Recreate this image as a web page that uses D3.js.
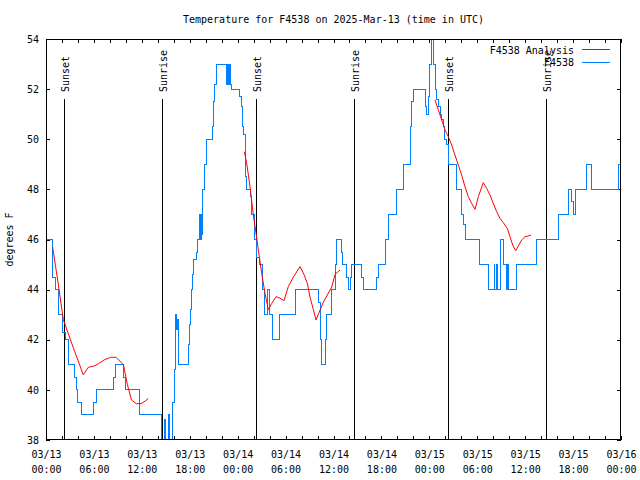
<!DOCTYPE html>
<html>
<head>
<meta charset="utf-8">
<script src="https://cdn.jsdelivr.net/npm/d3@7"></script>
<style>
  html,body{margin:0;padding:0;background:#fff;}
  svg{display:block;}
  text{font-family:"DejaVu Sans Mono","Liberation Mono",monospace;font-size:10px;fill:#000;}
</style>
</head>
<body>
<svg id="chart" width="640" height="480"></svg>
<script>
// ---- data (hours since 2025-03-13 00:00 UTC) ----
const obsHours = [0.16,0.83,1.25,1.54,2.09,2.38,2.8,3.55,3.76,4.0,4.47,6.01,6.3,8.51,8.75,9.68,9.95,11.77,14.5,14.82,15.0,15.32,15.45,15.86,16.07,16.25,16.4,16.48,16.57,17.82,17.95,18.12,18.24,18.37,18.53,18.87,19.0,19.2,19.35,19.45,19.55,19.62,19.82,20.05,20.83,20.95,21.16,21.29,22.62,22.71,22.79,22.87,22.95,23.04,23.12,23.2,24.29,24.5,24.6,24.75,24.97,25.13,25.55,25.75,26.17,26.38,26.71,27.13,27.34,27.55,27.75,27.97,28.38,29.3,31.18,34.1,34.31,34.5,34.94,35.14,35.43,35.77,36.19,36.4,36.94,37.15,37.65,37.86,38.15,38.28,39.53,39.74,41.41,41.62,42.46,42.57,42.87,43.91,44.75,45.58,45.79,46.0,47.46,47.6,47.88,48.08,48.29,48.58,48.71,48.92,49.13,49.34,49.55,49.75,49.96,50.17,50.38,51.42,52.05,52.26,52.55,54.26,55.39,56.1,56.22,56.4,56.52,56.85,57.27,57.69,57.8,57.9,58.94,61.44,64.16,65.41,65.83,66.04,66.25,67.71,68.25,71.67,72.0];
const obsTemps = [46,44.5,44,43,42.3,42,41,40.5,40,39.5,39,39.5,40,40.5,41,40.5,40,39,37.5,38.8,37.5,39,37.5,39.5,40.8,43,42.4,42.8,41,41.8,42.6,43.2,44,44.6,45.2,45.5,46,47,46,47,46.2,48,49,50,50.5,51.5,52.2,53,52.2,53,52.2,53,52.2,53,52.2,52,51.7,51.3,50.5,50.2,48.5,48,47.7,47,46,45.3,45,44,43,43,44,43,42,43,44,43.5,42,41,42,43,43,44,45,46,45.5,45,44.5,44,44.5,45,44.5,44,44.5,45,45,46,47,48,49,50.5,51.5,52,51.3,51,51.7,53,54.2,53,52,51.6,51.3,51,50.8,50.5,50,49.8,49,48,47,46.6,46,45,44,45,44,45,44,46,45,44,45,44,45,46,47,48,47.5,47,48,49,48,49,49];

const anaHours = [
  [0.83,1.5,2.17,3.4,4.67,5.3,6.0,6.6,7.3,8.1,8.77,9.7,10.2,10.7,11.3,11.9,12.4,12.8],
  [24.84,25.13,25.55,25.96,26.30,26.59,27.01,27.42,27.84,28.26,28.80,29.30,29.80,30.34,30.97,31.81,32.31,32.73,33.06,33.48,33.81,34.73,35.77,36.19,36.81],
  [48.71,49.13,49.55,49.96,50.38,50.8,51.21,51.63,52.05,52.47,52.88,53.3,53.72,54.14,54.76,55.18,55.6,56.01,56.43,56.85,57.27,57.77,58.1,58.44,58.81,59.14,59.56,59.98,60.4,60.73]
];
const anaTemps = [
  [45.7,44.3,42.8,41.7,40.6,40.9,40.95,41.05,41.2,41.3,41.3,41.0,40.2,39.6,39.45,39.45,39.55,39.65],
  [49.5,49.04,48.1,46.98,46.25,45.58,44.65,43.85,43.2,43.45,43.72,43.66,43.56,44.12,44.5,44.92,44.6,44.25,43.7,43.2,42.79,43.5,44.1,44.6,44.78],
  [51.57,51.17,50.77,50.37,50.1,49.77,49.37,48.97,48.57,48.1,47.71,47.44,47.2,47.71,48.27,48.04,47.77,47.44,47.11,46.84,46.67,46.44,46.11,45.78,45.55,45.74,45.98,46.11,46.14,46.18]
];

const sunsetHours = [2.254, 26.3, 50.34];
const sunriseHours = [14.53, 38.57, 62.61];

const yTicks = [38,40,42,44,46,48,50,52,54];
const seriesNames = ["F4538 Analysis", "F4538"];
const seriesColors = ["#ff0000", "#0080ff"];
const titleText = "Temperature for F4538 on 2025-Mar-13 (time in UTC)";
const yLabel = "degrees F";

// ---- layout ----
const L = 46, R = 621, T = 39, B = 440;
const t0 = Date.UTC(2025, 2, 13, 0, 0);
const hr = h => new Date(t0 + h * 3600000);

const svg = d3.select("#chart");
const x = d3.scaleUtc().domain([hr(0), hr(72)]).range([L, R]);
const y = d3.scaleLinear().domain([38, 54]).range([B, T]);

svg.append("defs").append("clipPath").attr("id", "clip")
  .append("rect").attr("x", L).attr("y", T).attr("width", R - L).attr("height", B - T);

// title
svg.append("text").attr("x", (L + R) / 2).attr("y", 23).attr("text-anchor", "middle").text(titleText);

// y label
svg.append("text").attr("transform", "translate(13," + ((T + B) / 2) + ") rotate(-90)")
  .attr("text-anchor", "middle").text(yLabel);

// y axis left
const yAxisL = svg.append("g").attr("transform", "translate(" + L + ",0)")
  .call(d3.axisLeft(y).tickValues(yTicks).tickSize(-4).tickPadding(6).tickFormat(d3.format("d")));
yAxisL.select(".domain").remove();
yAxisL.selectAll(".tick line").attr("stroke", "#000").attr("shape-rendering", "crispEdges");
yAxisL.selectAll("text").attr("font-family", null).attr("font-size", null).attr("x", -7);

// y axis right (mirror ticks)
const yAxisR = svg.append("g").attr("transform", "translate(" + R + ",0)")
  .call(d3.axisRight(y).tickValues(yTicks).tickSize(-4).tickFormat(""));
yAxisR.select(".domain").remove();
yAxisR.selectAll(".tick line").attr("stroke", "#000").attr("shape-rendering", "crispEdges");

// x ticks every 2 hours
const xTickVals = d3.range(0, 73, 2).map(hr);
const xAxisB = svg.append("g").attr("transform", "translate(0," + B + ")")
  .call(d3.axisBottom(x).tickValues(xTickVals).tickSize(-4).tickFormat(""));
xAxisB.select(".domain").remove();
xAxisB.selectAll(".tick line").attr("stroke", "#000").attr("shape-rendering", "crispEdges");
const xAxisT = svg.append("g").attr("transform", "translate(0," + T + ")")
  .call(d3.axisTop(x).tickValues(xTickVals).tickSize(-4).tickFormat(""));
xAxisT.select(".domain").remove();
xAxisT.selectAll(".tick line").attr("stroke", "#000").attr("shape-rendering", "crispEdges");

// x labels every 6 hours, two lines
const fmtD = d3.utcFormat("%m/%d"), fmtT = d3.utcFormat("%H:%M");
const xLab = svg.append("g").attr("transform", "translate(0," + B + ")")
  .call(d3.axisBottom(x).tickValues(d3.range(0, 73, 6).map(hr)).tickSize(0).tickFormat(""));
xLab.select(".domain").remove();
xLab.selectAll(".tick").each(function(d) {
  const t = d3.select(this).append("text").attr("text-anchor", "middle");
  t.append("tspan").attr("x", 0).attr("y", 18).text(fmtD(d));
  t.append("tspan").attr("x", 0).attr("y", 33).text(fmtT(d));
});

// sunset / sunrise lines
const sunEvents = sunsetHours.map(h => ({h, label: "Sunset"}))
  .concat(sunriseHours.map(h => ({h, label: "Sunrise"})));
const sg = svg.append("g");
sunEvents.forEach(e => {
  const px = Math.round(x(hr(e.h))) + 0.5;
  sg.append("line").attr("x1", px).attr("x2", px).attr("y1", 99).attr("y2", B)
    .attr("stroke", "#000").attr("stroke-width", 1).attr("shape-rendering", "crispEdges");
  sg.append("text").attr("transform", "translate(" + (px + 4.5) + ",92) rotate(-90)")
    .attr("text-anchor", "start").text(e.label);
});

// series
const plot = svg.append("g").attr("clip-path", "url(#clip)");
const obs = obsHours.map((h, i) => [hr(h), obsTemps[i]]);
plot.append("path").datum(obs)
  .attr("fill", "none").attr("stroke", seriesColors[1]).attr("stroke-width", 1)
  .attr("shape-rendering", "crispEdges")
  .attr("d", d3.line().x(d => x(d[0])).y(d => y(d[1])).curve(d3.curveStepAfter));

anaHours.forEach((hs, k) => {
  const pts = hs.map((h, i) => [hr(h), anaTemps[k][i]]);
  plot.append("path").datum(pts)
    .attr("fill", "none").attr("stroke", seriesColors[0]).attr("stroke-width", 1)
    .attr("d", d3.line().x(d => x(d[0])).y(d => y(d[1])));
});

// border
svg.append("rect").attr("x", L + 0.5).attr("y", T + 0.5).attr("width", R - L - 1).attr("height", B - T - 1)
  .attr("fill", "none").attr("stroke", "#000").attr("shape-rendering", "crispEdges");

// legend
const lg = svg.append("g");
seriesNames.forEach((n, i) => {
  const ly = 50 + i * 12.5;
  lg.append("text").attr("x", 574).attr("y", ly + 3.5).attr("text-anchor", "end").text(n);
  lg.append("line").attr("x1", 582).attr("x2", 610).attr("y1", ly - 0.5).attr("y2", ly - 0.5)
    .attr("stroke", seriesColors[i]).attr("stroke-width", 1).attr("shape-rendering", "crispEdges");
});
</script>
</body>
</html>
